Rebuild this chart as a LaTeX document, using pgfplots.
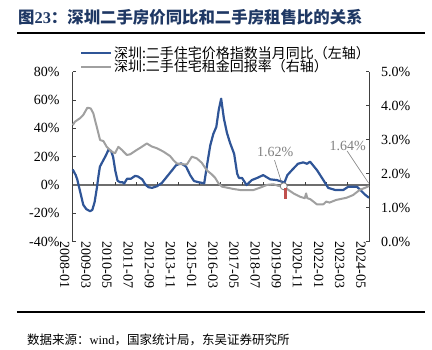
\documentclass[border=0pt]{standalone}
\usepackage{fontspec}
\setmainfont{Liberation Serif}
\newfontfamily\cjk{Noto Sans CJK SC}
\usepackage{pgfplots}
\pgfplotsset{compat=1.18}
\definecolor{cblue}{RGB}{47,85,151}
\definecolor{cgray}{RGB}{160,160,160}
\definecolor{ctitle}{RGB}{31,56,100}
\definecolor{cred}{RGB}{192,80,77}
\definecolor{caxis}{RGB}{64,64,64}
\definecolor{czero}{RGB}{110,110,110}
\definecolor{cann}{RGB}{127,127,127}
\begin{document}
\begin{tikzpicture}
\path (0pt,0pt) rectangle (432pt,350pt);
\node[anchor=west,inner sep=0pt,outer sep=0pt] at (17pt,317pt) {\rule{408pt}{1.6pt}};
\node[anchor=west,inner sep=0pt,text=ctitle,font=\fontsize{16.4}{18}\selectfont\bfseries] at (18pt,333pt) {{\cjk 图}23{\cjk ：深圳二手房价同比和二手房租售比的关系}};
\node[anchor=west,inner sep=0pt,font=\fontsize{12.5}{14}\selectfont] at (27pt,10pt) {{\cjk 数据来源：}wind{\cjk ，国家统计局，东吴证券研究所}};

\begin{axis}[
  at={(72.7pt,108.3pt)}, anchor=south west, scale only axis,
  width=296.3pt, height=170pt,
  xmin=0, xmax=196, ymin=-40, ymax=80,
  axis lines*=left, axis line style={-},
  x axis line style={draw=none},
  y axis line style={caxis,line width=0.8pt},
  xtick={0,14,...,196},
  xticklabels={2008-01,2009-03,2010-05,2011-07,2012-09,2013-11,2015-01,2016-03,2017-05,2018-07,2019-09,2020-11,2022-01,2023-03,2024-05},
  xticklabel style={rotate=-90,anchor=west,inner sep=0pt,yshift=-8pt},
  major x tick style={draw=none},
  ytick={-40,-20,...,80},
  yticklabels={-40\%,-20\%,0\%,20\%,40\%,60\%,80\%},
  yticklabel style={inner sep=0pt,xshift=-13pt,anchor=east},
  major y tick style={caxis,line width=0.8pt},
  tick align=inside, major tick length=3.5pt,
  clip=false,
  font=\fontsize{14}{16}\selectfont,
]
\draw[black,line width=2pt] (rel axis cs:-0.188,-0.4118) -- (rel axis cs:1.189,-0.4118);
\draw[czero,line width=1.2pt] (axis cs:0,0) -- (axis cs:196,0);
\pgfplotsinvokeforeach{14,28,42,56,70,84,98,112,126,140,154,168,182}{
  \draw[caxis,line width=0.8pt] (axis cs:#1,0) -- ([yshift=3.5pt]axis cs:#1,0);
}
\addplot[cblue,line width=2.2pt,line join=round] coordinates {
(0,11) (2,7) (3,4) (5,-5) (7,-14) (9,-17) (11.5,-18.5) (13,-17.5) (14.5,-12)
(16,-2) (17,6) (18,13) (20,17) (22,21) (23.7,25) (25.4,24) (26.7,20) (28.2,10)
(29.7,3) (31.3,2) (33,2) (34,1) (36,4.5) (38.6,4.5) (41.3,6.5) (43.2,6) (46,4)
(48,0.5) (50,-1.5) (52.5,-2) (55.8,-0.8) (59,1.5) (62.4,6) (65.8,10.5) (68.4,14)
(71.7,15.3) (75,13) (77.7,7) (80.3,2.8) (83.6,1.9) (87,1.2) (89,15) (91,28)
(93,36) (95,41) (96.6,53) (98.2,61) (100,47) (102,37) (104,30) (106.8,22)
(108.8,8) (110,5) (112,5) (115,0) (118.5,3.5) (122,5) (126,7) (130.7,4)
(135,3.5) (138.6,2.3) (140,1.5) (142,7) (145,10.5) (149,15) (152.5,16) (155,15)
(157,16.5) (161.6,10.5) (165.8,3.5) (169,-2) (173.7,-3.5) (179,-3.5) (182.3,-1.2)
(188,-1.2) (190.3,-3.5) (193.6,-7) (196,-9)
};
\end{axis}

\begin{axis}[
  at={(72.7pt,108.3pt)}, anchor=south west, scale only axis,
  width=296.3pt, height=170pt,
  xmin=0, xmax=196, ymin=0, ymax=5,
  axis x line=none, axis y line*=right, axis line style={-},
  y axis line style={caxis,line width=0.8pt},
  ytick={0,1,...,5},
  yticklabels={0.0\%,1.0\%,2.0\%,3.0\%,4.0\%,5.0\%},
  yticklabel style={inner sep=0pt,xshift=12pt,anchor=west},
  major y tick style={caxis,line width=0.8pt},
  tick align=inside, major tick length=3.5pt,
  clip=false,
  font=\fontsize{14}{16}\selectfont,
  legend style={at={(rel axis cs:0.015,1.17)},anchor=north west,draw=none,fill=none,
    font=\fontsize{14}{16}\selectfont\cjk,row sep=-3pt,nodes={inner sep=1.5pt}},
  legend cell align=left,
  legend image code/.code={\draw[#1] (0pt,0pt) -- (30pt,0pt);},
]
\addlegendimage{cblue,line width=2.2pt}
\addlegendentry{深圳:二手住宅价格指数当月同比（左轴）}
\addplot[cgray,line width=2pt,line join=round] coordinates {
(0,3.43) (1.5,3.53) (4.8,3.63) (7,3.73) (9.7,3.94) (11.9,3.92) (13.6,3.78)
(15.9,3.38) (18.1,2.99) (20.3,2.96) (22.5,2.79) (25.8,2.65) (28,2.6) (30.2,2.79)
(32.5,2.7) (35.8,2.55) (38,2.57) (42.4,2.7) (45.7,2.79) (49,2.89) (52.3,2.8)
(55.6,2.75) (60,2.65) (64.4,2.52) (66.6,2.4) (68.9,2.3) (72.2,2.28) (75.5,2.27)
(78.8,2.5) (82.1,2.45) (85.4,2.32) (88.7,2.1) (92,1.98) (94.2,1.88) (96.4,1.72)
(98.7,1.62) (102,1.59) (106.4,1.55) (110.8,1.52) (115.2,1.52) (119.6,1.52)
(124,1.59) (128.5,1.67) (132.8,1.69) (136.2,1.64) (139.5,1.62) (142.8,1.52)
(146.1,1.42) (150.5,1.32) (153.5,1.28) (154.4,1.42) (155.2,1.28) (157.2,1.25)
(161.5,1.1) (165.8,1.1) (167.7,1.18) (169.9,1.15) (174.4,1.23) (181,1.29)
(185.4,1.37) (189.8,1.52) (194.2,1.6) (196,1.64)
};
\addlegendentry{深圳:二手住宅租金回报率（右轴）}
\draw[cann,line width=0.6pt] (axis cs:133.5,2.40) -- (axis cs:138.1,1.75);
\draw[cann,line width=0.8pt,fill=white] (axis cs:139.6,1.63) circle (3.5pt);
\fill[cred] (axis cs:140.1,1.57) rectangle (axis cs:141.5,1.26);
\node[text=cann,font=\fontsize{14}{16}\selectfont] at (axis cs:134,2.64) {1.62\%};
\draw[cann,line width=0.6pt] (axis cs:181.5,2.67) -- (axis cs:195.8,1.72);
\node[text=cann,font=\fontsize{14}{16}\selectfont] at (axis cs:181.9,2.82) {1.64\%};
\end{axis}
\end{tikzpicture}
\end{document}
